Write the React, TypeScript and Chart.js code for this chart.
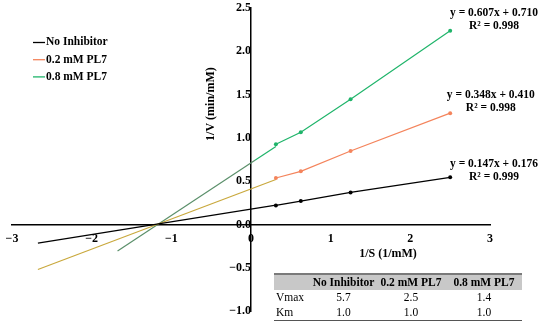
import React, { useEffect, useRef } from "react";
import { Chart, registerables } from "chart.js";

Chart.register(...registerables);

const substrateInv = [0.3125, 0.625, 1.25, 2.5];
const noInhibitor = [0.22, 0.27, 0.37, 0.544];
const pl7Low = [0.536, 0.613, 0.848, 1.285];
const pl7High = [0.926, 1.065, 1.447, 2.237];

const trendNoInhibitor = [{ x: -2.675, y: -0.217 }, { x: 0.3125, y: 0.222 }];
const trendLow = [{ x: -2.675, y: -0.521 }, { x: 0.3125, y: 0.519 }];
const trendHigh = [{ x: -1.675, y: -0.307 }, { x: 0.05, y: 0.74 }];
const trendHighNearAxis = [{ x: 0.05, y: 0.74 }, { x: 0.3125, y: 0.9 }];

const seriesNames = ["No Inhibitor", "0.2 mM PL7", "0.8 mM PL7"];
const equations = ["y = 0.147x + 0.176", "y = 0.348x + 0.410", "y = 0.607x + 0.710"];
const rSquared = ["R² = 0.999", "R² = 0.998", "R² = 0.998"];
const eqAnchorX = [3.05, 3.01, 3.05];
const eqAnchorY = [0.695, 1.495, 2.44];

const tableHeader = ["", "No Inhibitor", "0.2 mM PL7", "0.8 mM PL7"];
const tableVmax = ["Vmax", "5.7", "2.5", "1.4"];
const tableKm = ["Km", "1.0", "1.0", "1.0"];

const xTitle = "1/S (1/mM)";
const yTitle = "1/V (min/mM)";

const seriesColors = ["#000000", "#f4845c", "#1fb46a"];
const trendColors = ["#000000", "#c9a83c", "#5a8f6a"];

const FONT = "'Liberation Serif', 'Times New Roman', serif";

const pts = (ys: number[]) => substrateInv.map((x, i) => ({ x, y: ys[i] }));

const zeroPad = (scale: any) => {
  scale.paddingTop = 0;
  scale.paddingBottom = 0;
  scale.paddingLeft = 0;
  scale.paddingRight = 0;
};

export default function App() {
  const ref = useRef<HTMLCanvasElement | null>(null);

  useEffect(() => {
    document.body.style.margin = "0";
    const canvas = ref.current;
    if (!canvas) return;

    const overlay = {
      id: "overlay",
      afterDraw(chart: any) {
        const ctx = chart.ctx;
        const xs = chart.scales.x;
        const ys = chart.scales.y;
        ctx.save();
        ctx.fillStyle = "#000";
        ctx.font = `bold 11.5px ${FONT}`;
        ctx.textAlign = "center";
        ctx.textBaseline = "middle";
        for (let i = 0; i < 3; i++) {
          const px = xs.getPixelForValue(eqAnchorX[i]);
          const py = ys.getPixelForValue(eqAnchorY[i]);
          ctx.fillText(equations[i], px, py);
          ctx.fillText(rSquared[i], px, py + 13);
        }
        ctx.font = `bold 12px ${FONT}`;
        ctx.fillText(xTitle, xs.getPixelForValue(1.72), ys.getPixelForValue(-0.335));
        ctx.save();
        ctx.translate(xs.getPixelForValue(-0.5), ys.getPixelForValue(1.39));
        ctx.rotate(-Math.PI / 2);
        ctx.fillText(yTitle, 0, 0);
        ctx.restore();
        // zero tick label on x axis, crossed by the y axis line
        ctx.fillText("0", xs.getPixelForValue(0), ys.getPixelForValue(0) + 14);
        ctx.font = `bold 11.5px ${FONT}`;
        ctx.textAlign = "left";
        for (let i = 0; i < 3; i++) {
          const y = 42.5 + i * 17.2;
          ctx.strokeStyle = seriesColors[i];
          ctx.lineWidth = 1.3;
          ctx.beginPath();
          ctx.moveTo(33, y);
          ctx.lineTo(45, y);
          ctx.stroke();
          ctx.fillText(seriesNames[i], 46, y);
        }
        ctx.restore();
      },
    };

    const seriesSet = (data: any, color: string, order: number) => ({
      data,
      borderColor: color,
      backgroundColor: color,
      borderWidth: 1.2,
      pointRadius: 2,
      pointBorderWidth: 0,
      showLine: true,
      order,
    });
    const trendSet = (data: any, color: string, order: number) => ({
      data,
      borderColor: color,
      backgroundColor: color,
      borderWidth: 1.2,
      pointRadius: 0,
      showLine: true,
      order,
    });

    const chart = new Chart(canvas, {
      type: "scatter",
      data: {
        datasets: [
          seriesSet(pts(noInhibitor), seriesColors[0], 1),
          seriesSet(pts(pl7Low), seriesColors[1], 1),
          seriesSet(pts(pl7High), seriesColors[2], 1),
          trendSet(trendNoInhibitor, trendColors[0], 2),
          trendSet(trendLow, trendColors[1], 2),
          trendSet(trendHigh, trendColors[2], 2),
          trendSet(trendHighNearAxis, seriesColors[2], 2),
        ] as any,
      },
      options: {
        animation: false,
        responsive: false,
        layout: { padding: { left: 12, right: 60, top: 8, bottom: 13 } },
        plugins: { legend: { display: false }, tooltip: { enabled: false } },
        scales: {
          x: {
            type: "linear",
            min: -3,
            max: 3,
            position: { y: 0 } as any,
            afterFit: zeroPad,
            grid: { display: false, drawTicks: false },
            border: { display: true, color: "#000", width: 1.5 },
            ticks: {
              stepSize: 1,
              autoSkip: false,
              maxRotation: 0,
              padding: 7,
              color: "#000",
              font: { family: FONT, size: 12, weight: "bold" },
              callback: (v: any) => (Number(v) === 0 ? "" : String(v).replace("-", "−")),
            },
          },
          y: {
            type: "linear",
            min: -1,
            max: 2.5,
            position: { x: 0 } as any,
            afterFit: zeroPad,
            grid: { display: false, drawTicks: false },
            border: { display: true, color: "#000", width: 1.5 },
            ticks: {
              stepSize: 0.5,
              autoSkip: false,
              padding: 8,
              color: "#000",
              font: { family: FONT, size: 12, weight: "bold" },
              callback: (v: any) => Number(v).toFixed(1).replace("-", "−"),
            },
          },
        },
      },
      plugins: [overlay],
    });
    return () => chart.destroy();
  }, []);

  const cell = (text: string, i: number, bold: boolean) => (
    <div
      key={i}
      style={{
        width: [37, 65, 70, 76][i],
        textAlign: i === 0 ? "left" : "center",
        paddingLeft: i === 0 ? 2 : 0,
        boxSizing: "border-box",
        fontWeight: bold ? "bold" : "normal",
        whiteSpace: "nowrap",
      }}
    >
      {text}
    </div>
  );

  const rowStyle: React.CSSProperties = { display: "flex", height: 15, lineHeight: "15px" };

  return (
    <div style={{ position: "absolute", left: 0, top: 0, width: 550, height: 324 }}>
      <canvas ref={ref} width={550} height={324} />
      <div
        style={{
          position: "absolute",
          left: 274,
          top: 273,
          width: 248,
          fontFamily: FONT,
          fontSize: 11.5,
          color: "#000",
          borderTop: "2px solid #7a7a7a",
          borderBottom: "1px solid #555",
        }}
      >
        <div style={{ ...rowStyle, background: "#c8c8c8" }}>{tableHeader.map((t, i) => cell(t, i, true))}</div>
        <div style={rowStyle}>{tableVmax.map((t, i) => cell(t, i, false))}</div>
        <div style={rowStyle}>{tableKm.map((t, i) => cell(t, i, false))}</div>
      </div>
    </div>
  );
}
